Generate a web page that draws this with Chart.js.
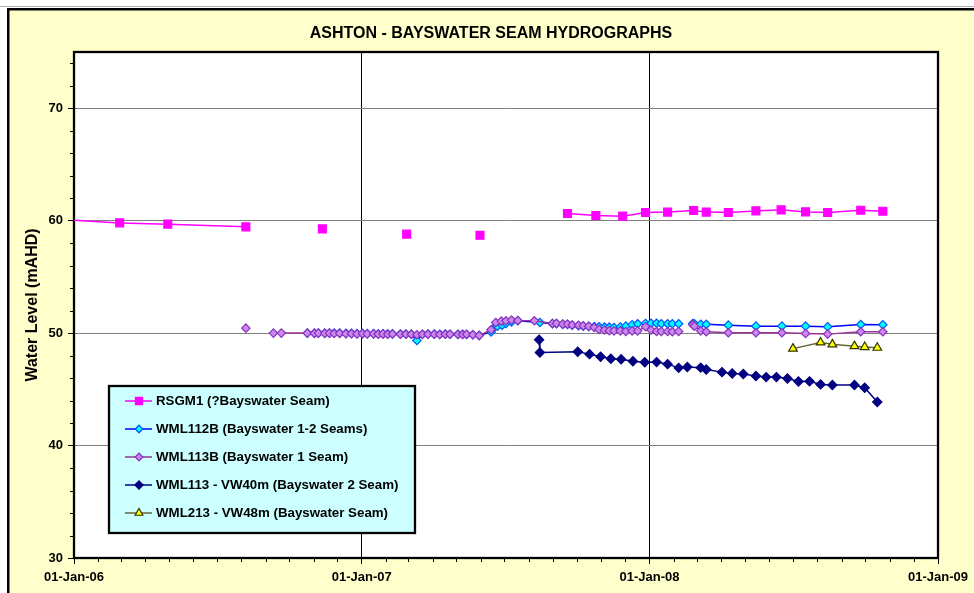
<!DOCTYPE html>
<html>
<head>
<meta charset="utf-8">
<title>Ashton - Bayswater Seam Hydrographs</title>
<script src="https://cdn.jsdelivr.net/npm/chart.js@4.4.1/dist/chart.umd.min.js"></script>
<style>
  html, body { margin: 0; padding: 0; background: #ffffff; }
  #wrap { width: 974px; height: 593px; position: relative; }
  canvas { display: block; }
</style>
</head>
<body>
<div id="wrap"><canvas id="hydro" width="974" height="593"></canvas></div>
<script>
// ---- Chart text ----
const chartTitle = 'ASHTON - BAYSWATER SEAM HYDROGRAPHS';
const yAxisTitle = 'Water Level (mAHD)';
const seriesNames = [
  'RSGM1 (?Bayswater Seam)',
  'WML112B (Bayswater 1-2 Seams)',
  'WML113B (Bayswater 1 Seam)',
  'WML113 - VW40m (Bayswater 2 Seam)',
  'WML213 - VW48m (Bayswater Seam)'
];

// ---- Axis ticks ----
const xTickDates = ['2006-01-01', '2007-01-01', '2008-01-01', '2009-01-01'];
const xTickLabels = ['01-Jan-06', '01-Jan-07', '01-Jan-08', '01-Jan-09'];
const yTickValues = [30, 40, 50, 60, 70];
const yMin = 30, yMax = 75, yMinorStep = 2;

// ---- Readings (null level = break in record) ----
const rsgm1Dates = ['2005-12-01', '2006-02-28', '2006-04-30', '2006-08-07', '2006-08-07', '2006-11-12', '2006-11-12',
  '2007-02-27', '2007-02-27', '2007-05-31', '2007-05-31', '2007-09-19', '2007-10-25', '2007-11-28', '2007-12-27',
  '2008-01-24', '2008-02-26', '2008-03-13', '2008-04-10', '2008-05-15', '2008-06-16', '2008-07-17', '2008-08-14',
  '2008-09-25', '2008-10-23'];
const rsgm1Levels = [60.16, 59.80, 59.69, 59.45, null, 59.27, null,
  58.80, null, 58.70, null, 60.64, 60.46, 60.40, 60.73,
  60.76, 60.90, 60.76, 60.73, 60.87, 60.96, 60.78, 60.73,
  60.93, 60.84];

const wml112bDates = ['2006-10-24', '2006-11-02', '2006-11-07', '2006-11-15', '2006-11-21', '2006-11-27', '2006-12-04',
  '2006-12-12', '2006-12-19', '2006-12-26', '2007-01-02', '2007-01-08', '2007-01-16', '2007-01-22', '2007-01-28',
  '2007-02-03', '2007-02-09', '2007-02-19', '2007-02-26', '2007-03-05', '2007-03-12', '2007-03-19', '2007-03-26',
  '2007-04-03', '2007-04-10', '2007-04-17', '2007-04-23', '2007-05-03', '2007-05-09', '2007-05-14', '2007-05-22',
  '2007-05-30', '2007-06-14', '2007-06-18', '2007-06-22', '2007-06-28', '2007-07-03', '2007-07-10', '2007-07-18',
  '2007-08-15', '2007-08-31', '2007-09-05', '2007-09-13', '2007-09-19', '2007-09-25', '2007-10-03', '2007-10-09',
  '2007-10-16', '2007-10-23', '2007-10-29', '2007-11-05', '2007-11-11', '2007-11-17', '2007-11-25', '2007-12-02',
  '2007-12-10', '2007-12-17', '2007-12-27', '2008-01-03', '2008-01-10', '2008-01-16', '2008-01-24', '2008-01-30',
  '2008-02-07', '2008-02-07', '2008-02-25', '2008-02-27', '2008-03-06', '2008-03-13', '2008-04-10', '2008-05-15',
  '2008-06-17', '2008-07-17', '2008-08-14', '2008-09-25', '2008-10-23'];
const wml112bLevels = [50.00, 50.00, 50.00, 50.00, 50.00, 50.00, 50.00,
  49.98, 49.98, 49.96, 49.96, 49.95, 49.95, 49.93, 49.93,
  49.93, 49.93, 49.92, 49.92, 49.90, 49.35, 49.90, 49.92,
  49.92, 49.90, 49.92, 49.90, 49.90, 49.90, 49.88, 49.86,
  49.80, 50.10, 50.50, 50.62, 50.70, 50.86, 51.00, 51.10,
  50.95, 50.84, 50.84, 50.78, 50.76, 50.70, 50.66, 50.62,
  50.60, 50.58, 50.56, 50.53, 50.53, 50.50, 50.55, 50.62,
  50.75, 50.83, 50.86, 50.88, 50.88, 50.83, 50.83, 50.83,
  50.83, null, 50.86, 50.83, 50.78, 50.78, 50.71, 50.62,
  50.62, 50.62, 50.56, 50.77, 50.74];

const wml113bDates = ['2006-08-07', '2006-08-07', '2006-09-11', '2006-09-21', '2006-10-24', '2006-11-02', '2006-11-07',
  '2006-11-15', '2006-11-21', '2006-11-27', '2006-12-04', '2006-12-12', '2006-12-19', '2006-12-26', '2007-01-02',
  '2007-01-08', '2007-01-16', '2007-01-22', '2007-01-28', '2007-02-03', '2007-02-09', '2007-02-19', '2007-02-26',
  '2007-03-05', '2007-03-12', '2007-03-19', '2007-03-26', '2007-04-03', '2007-04-10', '2007-04-17', '2007-04-23',
  '2007-05-03', '2007-05-09', '2007-05-14', '2007-05-22', '2007-05-30', '2007-06-14', '2007-06-20', '2007-06-27',
  '2007-07-03', '2007-07-10', '2007-07-18', '2007-08-08', '2007-08-31', '2007-09-05', '2007-09-13', '2007-09-19',
  '2007-09-25', '2007-10-03', '2007-10-09', '2007-10-16', '2007-10-23', '2007-10-29', '2007-11-05', '2007-11-11',
  '2007-11-17', '2007-11-25', '2007-12-02', '2007-12-10', '2007-12-17', '2007-12-27', '2008-01-03', '2008-01-10',
  '2008-01-16', '2008-01-24', '2008-01-30', '2008-02-07', '2008-02-07', '2008-02-25', '2008-02-27', '2008-03-06',
  '2008-03-13', '2008-04-10', '2008-05-15', '2008-06-17', '2008-07-17', '2008-08-14', '2008-09-25', '2008-10-23'];
const wml113bLevels = [50.44, null, 50.00, 50.00, 50.00, 49.98, 50.00,
  49.98, 50.00, 49.96, 49.98, 49.95, 49.95, 49.93, 49.95,
  49.93, 49.93, 49.90, 49.93, 49.90, 49.92, 49.90, 49.90,
  49.90, 49.85, 49.90, 49.90, 49.90, 49.88, 49.90, 49.90,
  49.88, 49.88, 49.90, 49.85, 49.78, 50.30, 50.95, 51.07,
  51.10, 51.16, 51.12, 51.10, 50.86, 50.86, 50.80, 50.80,
  50.72, 50.70, 50.65, 50.60, 50.50, 50.33, 50.27, 50.22,
  50.20, 50.20, 50.15, 50.20, 50.20, 50.56, 50.27, 50.15,
  50.15, 50.15, 50.12, 50.15, null, 50.74, 50.62, 50.20,
  50.12, 50.03, 50.03, 50.03, 49.97, 49.91, 50.12, 50.12];

const wml113Dates = ['2007-08-14', '2007-08-15', '2007-10-02', '2007-10-17', '2007-10-31', '2007-11-13', '2007-11-26',
  '2007-12-11', '2007-12-26', '2008-01-10', '2008-01-24', '2008-02-07', '2008-02-18', '2008-03-06', '2008-03-13',
  '2008-04-02', '2008-04-15', '2008-04-29', '2008-05-15', '2008-05-28', '2008-06-10', '2008-06-24', '2008-07-08',
  '2008-07-22', '2008-08-05', '2008-08-20', '2008-09-17', '2008-09-30', '2008-10-16'];
const wml113Levels = [49.41, 48.28, 48.34, 48.13, 47.90, 47.72, 47.67,
  47.50, 47.41, 47.42, 47.24, 46.91, 46.98, 46.93, 46.77,
  46.53, 46.41, 46.36, 46.18, 46.09, 46.09, 45.96, 45.70,
  45.71, 45.44, 45.38, 45.38, 45.14, 43.87];

const wml213Dates = ['2008-07-01', '2008-08-05', '2008-08-20', '2008-09-17', '2008-09-30', '2008-10-16'];
const wml213Levels = [48.62, 49.17, 49.00, 48.84, 48.76, 48.70];

// ---- Helpers ----
const FONT = "'Liberation Sans', Arial, Helvetica, sans-serif";
const toTime = d => Date.parse(d + 'T00:00:00Z');
const toPoints = (dates, levels) => dates.map((d, i) => ({ x: toTime(d), y: levels[i] }));

function markerStyle(opts) {
  return Object.assign({
    fill: false,
    tension: 0,
    borderWidth: 1.5,
    pointBorderWidth: 1.2,
    pointHoverRadius: 0,
    spanGaps: false
  }, opts);
}

// Background, frame and plot-area fill
const framePlugin = {
  id: 'frame',
  beforeDraw(chart) {
    const { ctx, width, height, chartArea: a } = chart;
    ctx.save();
    ctx.fillStyle = '#ffffff';
    ctx.fillRect(0, 0, width, height);
    ctx.fillStyle = '#b0b0b0';
    ctx.fillRect(0, 6, width, 1);
    ctx.fillStyle = '#000000';
    ctx.fillRect(7, 8, width, height);
    ctx.fillStyle = '#FFFFCC';
    ctx.fillRect(9.5, 10.5, width, height);
    ctx.fillStyle = '#ffffff';
    ctx.fillRect(a.left, a.top, a.right - a.left, a.bottom - a.top);
    ctx.restore();
  },
  beforeDatasetsDraw(chart) {
    const { ctx, chartArea: a, scales: { x, y } } = chart;
    ctx.save();
    // minor tick marks: monthly on x, every 2 m on y
    ctx.strokeStyle = '#000000';
    ctx.lineWidth = 1;
    ctx.beginPath();
    for (let yr = 2006; yr <= 2008; yr++) {
      for (let m = 1; m < 12; m++) {
        const px = Math.round(x.getPixelForValue(Date.UTC(yr, m, 1))) + 0.5;
        ctx.moveTo(px, a.bottom);
        ctx.lineTo(px, a.bottom + 4);
      }
    }
    for (let v = yMin + yMinorStep; v < yMax; v += yMinorStep) {
      if (v % 10 === 0) continue;
      const py = Math.round(y.getPixelForValue(v)) + 0.5;
      ctx.moveTo(a.left - 4, py);
      ctx.lineTo(a.left, py);
    }
    ctx.stroke();
    // plot border
    ctx.lineWidth = 2.3;
    ctx.strokeRect(a.left, a.top, a.right - a.left, a.bottom - a.top);
    ctx.restore();
  }
};

// Simple marker drawing for the key
function drawMarker(ctx, style, radius, bw, cx, cy) {
  if (Chart.helpers && Chart.helpers.drawPoint) {
    Chart.helpers.drawPoint(ctx, { pointStyle: style, radius: radius, borderWidth: bw, rotation: 0 }, cx, cy);
    return;
  }
  ctx.beginPath();
  if (style === 'rect') {
    const s = radius * Math.SQRT1_2;
    ctx.rect(cx - s, cy - s, 2 * s, 2 * s);
  } else if (style === 'rectRot') {
    ctx.moveTo(cx - radius, cy); ctx.lineTo(cx, cy - radius);
    ctx.lineTo(cx + radius, cy); ctx.lineTo(cx, cy + radius);
  } else {
    ctx.moveTo(cx, cy - radius);
    ctx.lineTo(cx + radius * 0.866, cy + radius / 2);
    ctx.lineTo(cx - radius * 0.866, cy + radius / 2);
  }
  ctx.closePath();
  ctx.fill();
  if (bw > 0) ctx.stroke();
}

// Boxed key inside the plot area
const keyPlugin = {
  id: 'boxKey',
  afterDraw(chart) {
    const ctx = chart.ctx;
    const box = { left: 109, top: 386, width: 306, height: 147 };
    ctx.save();
    ctx.fillStyle = '#CCFFFF';
    ctx.fillRect(box.left, box.top, box.width, box.height);
    ctx.lineWidth = 2.3;
    ctx.strokeStyle = '#000000';
    ctx.strokeRect(box.left, box.top, box.width, box.height);
    chart.data.datasets.forEach((ds, i) => {
      const cy = box.top + 15 + i * 28;
      ctx.strokeStyle = ds.borderColor;
      ctx.lineWidth = 1.5;
      ctx.beginPath();
      ctx.moveTo(box.left + 16, cy);
      ctx.lineTo(box.left + 43, cy);
      ctx.stroke();
      ctx.fillStyle = ds.pointBackgroundColor;
      ctx.strokeStyle = ds.pointBorderColor;
      ctx.lineWidth = ds.pointBorderWidth;
      drawMarker(ctx, ds.pointStyle, ds.pointRadius * 0.9, ds.pointBorderWidth, box.left + 30, cy);
      ctx.fillStyle = '#000000';
      ctx.font = 'bold 13.3px ' + FONT;
      ctx.textAlign = 'left';
      ctx.textBaseline = 'middle';
      ctx.fillText(ds.label, box.left + 47, cy + 0.5);
    });
    ctx.restore();
  }
};

const tickFont = { family: FONT, size: 13, weight: 'bold' };

new Chart(document.getElementById('hydro'), {
  type: 'line',
  data: {
    datasets: [
      markerStyle({
        label: seriesNames[0], data: toPoints(rsgm1Dates, rsgm1Levels), order: 5,
        borderColor: '#FF00FF', backgroundColor: '#FF00FF',
        pointStyle: 'rect', pointRadius: 5.6, pointBackgroundColor: '#FF00FF', pointBorderColor: '#FF00FF'
      }),
      markerStyle({
        label: seriesNames[1], data: toPoints(wml112bDates, wml112bLevels), order: 4,
        borderColor: '#0000FF', backgroundColor: '#00FFFF',
        pointStyle: 'rectRot', pointRadius: 4.2, pointBackgroundColor: '#00FFFF', pointBorderColor: '#0055FF'
      }),
      markerStyle({
        label: seriesNames[2], data: toPoints(wml113bDates, wml113bLevels), order: 3,
        borderColor: '#993399', backgroundColor: '#CC99FF',
        pointStyle: 'rectRot', pointRadius: 4.2, pointBackgroundColor: '#CC88EE', pointBorderColor: '#8833BB'
      }),
      markerStyle({
        label: seriesNames[3], data: toPoints(wml113Dates, wml113Levels), order: 2,
        borderColor: '#000080', backgroundColor: '#000080',
        pointStyle: 'rectRot', pointRadius: 4.6, pointBackgroundColor: '#000080', pointBorderColor: '#000080'
      }),
      markerStyle({
        label: seriesNames[4], data: toPoints(wml213Dates, wml213Levels), order: 1,
        borderColor: '#666633', backgroundColor: '#FFFF00',
        pointStyle: 'triangle', pointRadius: 5, pointBackgroundColor: '#FFFF00', pointBorderColor: '#333300'
      })
    ]
  },
  options: {
    responsive: false,
    animation: false,
    events: [],
    layout: { padding: { left: 8, right: 0, top: 0, bottom: 0 } },
    plugins: {
      legend: { display: false },
      tooltip: { enabled: false },
      title: {
        display: true,
        text: chartTitle,
        color: '#000000',
        font: { family: FONT, size: 16, weight: 'bold' },
        padding: { top: 24, bottom: 8.8 }
      }
    },
    scales: {
      x: {
        type: 'linear',
        min: toTime(xTickDates[0]),
        max: toTime(xTickDates[xTickDates.length - 1]),
        afterBuildTicks: s => { s.ticks = xTickDates.map(d => ({ value: toTime(d) })); },
        afterFit: s => { s.height = 35; },
        ticks: {
          autoSkip: false, maxRotation: 0, color: '#000000', font: tickFont, padding: 6,
          callback: (v, i) => xTickLabels[i]
        },
        grid: { color: '#000000', lineWidth: 1, tickColor: '#000000', tickLength: 6 },
        border: { display: true, color: '#000000', width: 2 }
      },
      y: {
        type: 'linear',
        min: yMin,
        max: yMax,
        afterBuildTicks: s => { s.ticks = yTickValues.map(v => ({ value: v })); },
        afterFit: s => { s.width = 66; },
        ticks: { color: '#000000', font: tickFont, padding: 5 },
        grid: { color: '#808080', lineWidth: 1, tickColor: '#000000', tickLength: 6 },
        border: { display: true, color: '#000000', width: 2 },
        title: {
          display: true, text: yAxisTitle, color: '#000000',
          font: { family: FONT, size: 16, weight: 'bold' },
          padding: { top: 14.6, bottom: 0 }
        }
      },
      yRightMargin: {
        type: 'linear',
        position: 'right',
        display: true,
        afterFit: s => { s.width = 34; },
        ticks: { display: false },
        grid: { display: false, drawTicks: false },
        border: { display: false }
      }
    }
  },
  plugins: [framePlugin, keyPlugin]
});
</script>
</body>
</html>
